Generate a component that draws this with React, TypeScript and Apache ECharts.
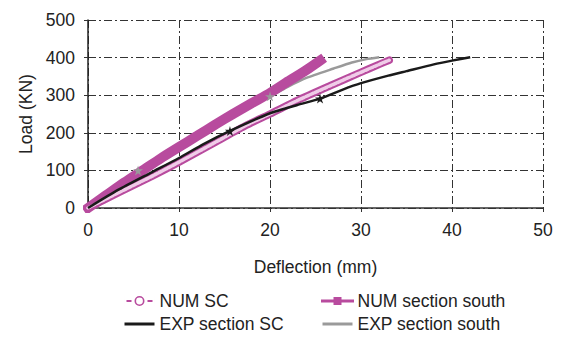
import React, { useEffect, useRef } from "react";
import * as echarts from "echarts";

const numScX = [0, 3.3, 7, 10, 13.8, 17.4, 20, 23, 26.6, 29.9, 32, 33.1];
const numScY = [0, 40, 84, 122, 172, 220, 250, 286, 325, 360, 382, 393];

const numSouthX = [0, 2, 4, 6, 8, 10, 12, 14, 16, 18, 20, 22, 24, 25.5];
const numSouthY = [0, 34, 68, 100, 132, 162, 192, 222, 251, 279, 306, 337, 367, 392];

const expScX = [0, 3.3, 7, 10, 12.7, 15.6, 20, 23, 25.5, 28, 30, 33, 35, 38, 40, 42];
const expScY = [0, 48, 95, 133, 170, 205, 252, 274, 291, 315, 332, 352, 364, 382, 392, 401];
const expScStars = [5, 8];

const expSouthX = [0, 3, 5.5, 8, 10, 13, 16, 18.9, 20, 22, 24, 27, 29, 30.6, 32];
const expSouthY = [0, 55, 100, 138, 166, 208, 250, 289, 297, 323, 346, 371, 387, 396, 401];
const expSouthStars = [2, 8];

const xTicks = { min: 0, max: 50, interval: 10 };
const yTicks = { min: 0, max: 500, interval: 100 };

const MAGENTA = "#B84B9E";
const FONT = "Liberation Sans, Arial, sans-serif";
const FS = 17.5;
const STAR =
  "path://M0,-10 L2,-3 L9.5,-3 L3.4,1.3 L5.9,8 L0,4 L-5.9,8 L-3.4,1.3 L-9.5,-3 L-2,-3 Z";
const NUM_SC_ICON =
  "path://M2,4H7V6H2Z M23,4H28V6H23Z M10,5A5,5 0 1,0 20,5A5,5 0 1,0 10,5Z M11.6,5A3.4,3.4 0 1,1 18.4,5A3.4,3.4 0 1,1 11.6,5Z M0,0H0.01V10H0Z M29.99,0H30V10H29.99Z";

function pairs(xs: number[], ys: number[], stars: number[] = []) {
  return xs.map((x, i) =>
    stars.includes(i)
      ? { value: [x, ys[i]], symbol: STAR, symbolSize: 10 }
      : [x, ys[i]]
  );
}

export default function App() {
  const ref = useRef<HTMLDivElement>(null);
  useEffect(() => {
    if (!ref.current) return;
    const chart = echarts.init(ref.current, undefined, { renderer: "svg" });
    const gridLine = { show: true, lineStyle: { color: "#333", width: 1, type: [8, 3, 2, 3] as any } };
    const hidden = { color: "transparent", borderColor: "transparent", opacity: 0 };
    const legendBase = {
      orient: "vertical",
      top: 287,
      itemWidth: 30,
      itemHeight: 10,
      itemGap: 5,
      textStyle: { fontSize: FS, color: "#222", fontFamily: FONT },
    };
    chart.setOption({
      animation: false,
      backgroundColor: "#fff",
      textStyle: { fontFamily: FONT },
      grid: { left: 88, right: 21, top: 20, bottom: 132 },
      xAxis: {
        type: "value",
        ...xTicks,
        name: "Deflection (mm)",
        nameLocation: "middle",
        nameGap: 50,
        nameTextStyle: { fontSize: FS, color: "#222", fontFamily: FONT },
        axisLine: { show: true, onZero: false, lineStyle: { color: "#333", width: 1.5 } },
        axisTick: { show: true, length: 4, lineStyle: { color: "#333" } },
        axisLabel: { fontSize: FS, color: "#222", margin: 13, fontFamily: FONT },
        splitLine: gridLine,
      },
      yAxis: {
        type: "value",
        ...yTicks,
        name: "Load (KN)",
        nameLocation: "middle",
        nameGap: 52,
        nameRotate: 90,
        nameTextStyle: { fontSize: FS, color: "#222", fontFamily: FONT },
        axisLine: { show: true, onZero: false, lineStyle: { color: "#222", width: 1.5 } },
        axisTick: { show: true, length: 4, lineStyle: { color: "#333" } },
        axisLabel: { fontSize: FS, color: "#222", margin: 13, fontFamily: FONT },
        splitLine: gridLine,
      },
      legend: [
        {
          ...legendBase,
          left: 118,
          data: [
            {
              name: "NUM SC",
              icon: NUM_SC_ICON,
              itemStyle: { color: MAGENTA, borderWidth: 0 },
            },
            { name: "EXP section SC", lineStyle: { width: 3, color: "#1a1a1a" }, itemStyle: hidden },
          ],
        },
        {
          ...legendBase,
          left: 316,
          data: [
            { name: "NUM section south", lineStyle: { width: 3, color: MAGENTA }, itemStyle: { color: MAGENTA } },
            { name: "EXP section south", lineStyle: { width: 3, color: "#9a9a9a" }, itemStyle: hidden },
          ],
        },
      ],
      series: [
        {
          name: "EXP section south",
          type: "line",
          smooth: 0.2,
          symbol: "none",
          showSymbol: true,
          itemStyle: { color: "#9a9a9a" },
          lineStyle: { color: "#9a9a9a", width: 2.5 },
          data: pairs(expSouthX, expSouthY, expSouthStars),
        },
        {
          name: "NUM section south",
          type: "line",
          smooth: 0.2,
          symbol: "rect",
          symbolSize: 7,
          showSymbol: false,
          itemStyle: { color: MAGENTA },
          lineStyle: { color: MAGENTA, width: 10, cap: "square" },
          data: pairs(numSouthX, numSouthY),
        },
        {
          name: "NUM SC",
          type: "line",
          smooth: 0.2,
          symbol: "emptyCircle",
          symbolSize: 8,
          showSymbol: false,
          itemStyle: { color: MAGENTA },
          lineStyle: { color: MAGENTA, width: 7.5, cap: "round" },
          data: pairs(numScX, numScY),
        },
        {
          name: "NUM SC inner",
          type: "line",
          smooth: 0.2,
          symbol: "none",
          lineStyle: { color: "#F0CCE8", width: 3.5, type: [3, 2] as any, cap: "round" },
          data: pairs(numScX, numScY),
        },
        {
          name: "EXP section SC",
          type: "line",
          smooth: 0.2,
          symbol: "none",
          showSymbol: true,
          itemStyle: { color: "#1a1a1a" },
          lineStyle: { color: "#1a1a1a", width: 2.5 },
          data: pairs(expScX, expScY, expScStars),
        },
      ],
    });
    return () => chart.dispose();
  }, []);
  return (
    <div
      ref={ref}
      style={{ position: "fixed", left: 0, top: 0, width: 564, height: 340, background: "#fff" }}
    />
  );
}
